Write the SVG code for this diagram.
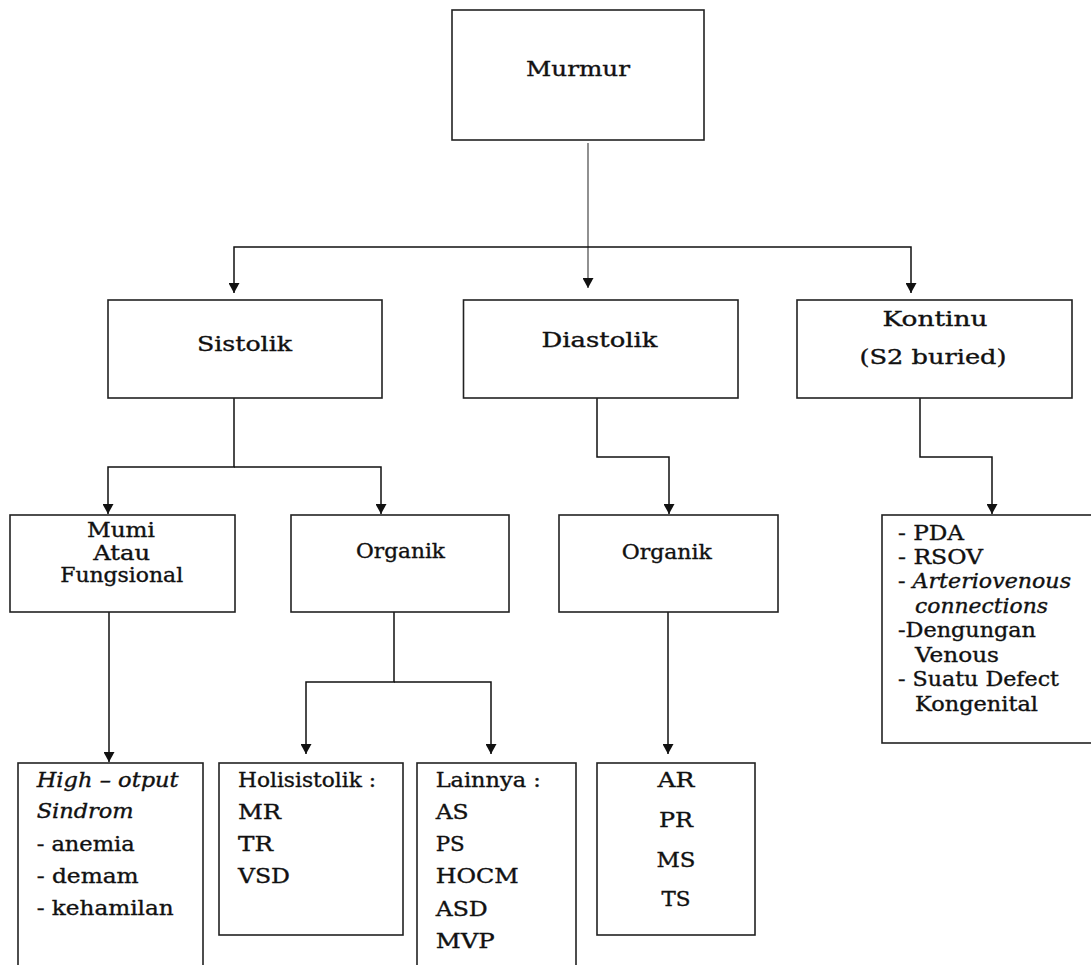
<svg xmlns="http://www.w3.org/2000/svg" width="1091" height="965" viewBox="0 0 1091 965">
<style>
.box{fill:#fff;stroke:#222;stroke-width:1.6}
.t{font-family:"DejaVu Serif","Liberation Serif",serif;font-size:19.5px;fill:#111;stroke:#111;stroke-width:0.35}
.c{text-anchor:middle}
.i{font-style:italic}
.con{fill:none;stroke:#111;stroke-width:1.5}
.thin{fill:none;stroke:#555;stroke-width:1.3}
</style>
<defs>
<marker id="arr" markerUnits="userSpaceOnUse" markerWidth="11" markerHeight="11" refX="10" refY="5.5" orient="auto">
<path d="M0,0 L10,5.5 L0,11 Z" fill="#111"/>
</marker>
</defs>
<g id="connectors">
<path class="thin" d="M588,143 V288" marker-end="url(#arr)"/>
<path class="con" d="M588,247 H234 V293" marker-end="url(#arr)"/>
<path class="con" d="M588,247 H911 V293" marker-end="url(#arr)"/>
<path class="con" d="M234,398 V467 H108 V514" marker-end="url(#arr)"/>
<path class="con" d="M234,467 H381 V514" marker-end="url(#arr)"/>
<path class="con" d="M597,398 V457 H669 V514" marker-end="url(#arr)"/>
<path class="con" d="M920,398 V457 H992 V514" marker-end="url(#arr)"/>
<path class="con" d="M109,612 V762" marker-end="url(#arr)"/>
<path class="con" d="M394,612 V682 H306 V754" marker-end="url(#arr)"/>
<path class="con" d="M394,682 H491 V754" marker-end="url(#arr)"/>
<path class="con" d="M668,612 V754" marker-end="url(#arr)"/>
</g>
<g id="murmur">
<rect class="box" x="452" y="10" width="252" height="130"/>
<text class="t c" x="578" y="76" textLength="104" lengthAdjust="spacingAndGlyphs">Murmur</text>
</g>
<g id="sistolik">
<rect class="box" x="108" y="300" width="274" height="98"/>
<text class="t c" x="244.5" y="351" textLength="95" lengthAdjust="spacingAndGlyphs">Sistolik</text>
</g>
<g id="diastolik">
<rect class="box" x="463.5" y="300" width="274.5" height="98"/>
<text class="t c" x="599.5" y="346.5" textLength="116" lengthAdjust="spacingAndGlyphs">Diastolik</text>
</g>
<g id="kontinu">
<rect class="box" x="797" y="300" width="275" height="98"/>
<text class="t c" x="935" y="325.5" textLength="105" lengthAdjust="spacingAndGlyphs">Kontinu</text>
<text class="t c" x="933" y="363.5" textLength="147" lengthAdjust="spacingAndGlyphs">(S2 buried)</text>
</g>
<g id="murni">
<rect class="box" x="10" y="515" width="225" height="97"/>
<text class="t c" x="121" y="537" textLength="68" lengthAdjust="spacingAndGlyphs">Mumi</text>
<text class="t c" x="121.7" y="560" textLength="57" lengthAdjust="spacingAndGlyphs">Atau</text>
<text class="t c" x="121.7" y="582" textLength="123" lengthAdjust="spacingAndGlyphs">Fungsional</text>
</g>
<g id="organik-sistolik">
<rect class="box" x="291" y="515" width="218" height="97"/>
<text class="t c" x="400.5" y="558" textLength="89" lengthAdjust="spacingAndGlyphs">Organik</text>
</g>
<g id="organik-diastolik">
<rect class="box" x="559" y="515" width="219" height="97"/>
<text class="t c" x="666.7" y="559" textLength="90" lengthAdjust="spacingAndGlyphs">Organik</text>
</g>
<g id="kontinu-list">
<rect class="box" x="882" y="515" width="230" height="228"/>
<text class="t" x="898" y="540" textLength="66" lengthAdjust="spacingAndGlyphs">- PDA</text>
<text class="t" x="898" y="564" textLength="85" lengthAdjust="spacingAndGlyphs">- RSOV</text>
<text class="t" x="898" y="588" textLength="173" lengthAdjust="spacingAndGlyphs">- <tspan class="i">Arteriovenous</tspan></text>
<text class="t i" x="915" y="613" textLength="133" lengthAdjust="spacingAndGlyphs">connections</text>
<text class="t" x="898" y="637" textLength="138" lengthAdjust="spacingAndGlyphs">-Dengungan</text>
<text class="t" x="915" y="662" textLength="84" lengthAdjust="spacingAndGlyphs">Venous</text>
<text class="t" x="898" y="686" textLength="161" lengthAdjust="spacingAndGlyphs">- Suatu Defect</text>
<text class="t" x="915" y="711" textLength="123" lengthAdjust="spacingAndGlyphs">Kongenital</text>
</g>
<g id="high-output">
<rect class="box" x="18" y="763" width="185" height="220"/>
<text class="t i" x="36.7" y="787" textLength="142" lengthAdjust="spacingAndGlyphs">High – otput</text>
<text class="t i" x="36.7" y="818" textLength="97" lengthAdjust="spacingAndGlyphs">Sindrom</text>
<text class="t" x="36.7" y="851" textLength="98" lengthAdjust="spacingAndGlyphs">- anemia</text>
<text class="t" x="36.7" y="883" textLength="102" lengthAdjust="spacingAndGlyphs">- demam</text>
<text class="t" x="36.7" y="915" textLength="137" lengthAdjust="spacingAndGlyphs">- kehamilan</text>
</g>
<g id="holisistolik">
<rect class="box" x="219" y="763" width="184" height="172"/>
<text class="t" x="238" y="787" textLength="138" lengthAdjust="spacingAndGlyphs">Holisistolik :</text>
<text class="t" x="238" y="819" textLength="43" lengthAdjust="spacingAndGlyphs">MR</text>
<text class="t" x="238" y="851" textLength="35" lengthAdjust="spacingAndGlyphs">TR</text>
<text class="t" x="238" y="883" textLength="52" lengthAdjust="spacingAndGlyphs">VSD</text>
</g>
<g id="lainnya">
<rect class="box" x="417" y="763" width="159" height="220"/>
<text class="t" x="435.7" y="787" textLength="105" lengthAdjust="spacingAndGlyphs">Lainnya :</text>
<text class="t" x="435.7" y="819" textLength="33" lengthAdjust="spacingAndGlyphs">AS</text>
<text class="t" x="435.7" y="851" textLength="29" lengthAdjust="spacingAndGlyphs">PS</text>
<text class="t" x="435.7" y="883" textLength="83" lengthAdjust="spacingAndGlyphs">HOCM</text>
<text class="t" x="435.7" y="916" textLength="52" lengthAdjust="spacingAndGlyphs">ASD</text>
<text class="t" x="435.7" y="948" textLength="59" lengthAdjust="spacingAndGlyphs">MVP</text>
</g>
<g id="diastolik-list">
<rect class="box" x="597" y="763" width="158" height="172"/>
<text class="t c" x="676" y="787" textLength="37" lengthAdjust="spacingAndGlyphs">AR</text>
<text class="t c" x="676" y="827" textLength="34" lengthAdjust="spacingAndGlyphs">PR</text>
<text class="t c" x="676" y="867" textLength="39" lengthAdjust="spacingAndGlyphs">MS</text>
<text class="t c" x="676" y="906" textLength="29" lengthAdjust="spacingAndGlyphs">TS</text>
</g>
</svg>
